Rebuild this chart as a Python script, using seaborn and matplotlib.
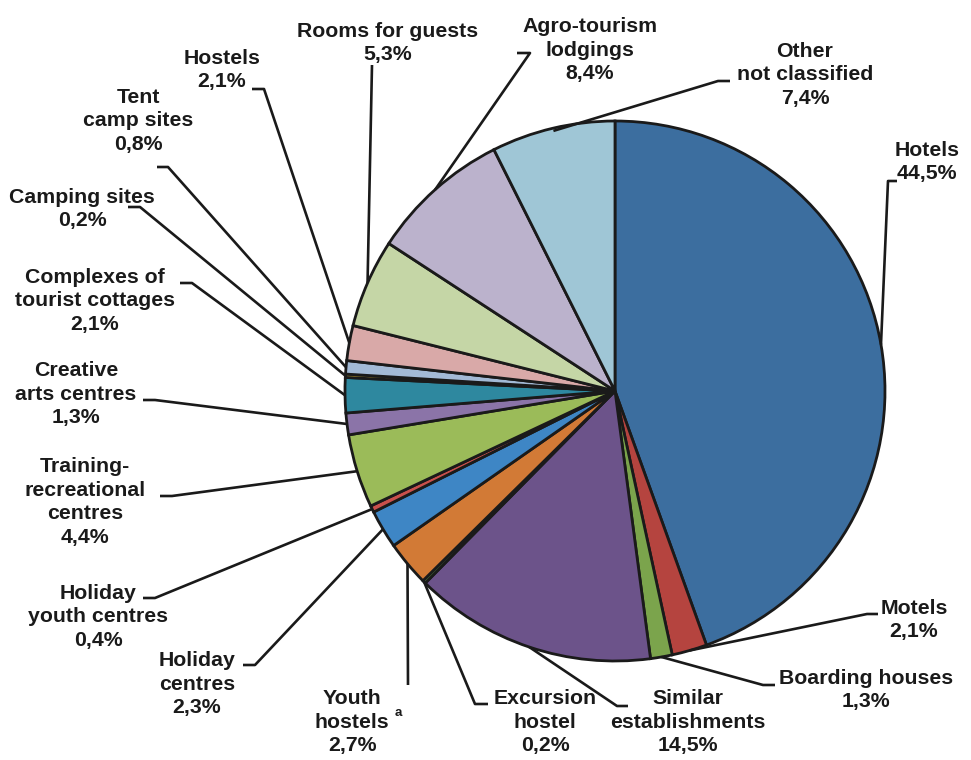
import numpy as np
import matplotlib
matplotlib.use("Agg")
import matplotlib.pyplot as plt
import seaborn as sns

# ---- data ----
categories = ["Hotels", "Motels", "Boarding houses", "Similar establishments",
              "Excursion hostel", "Youth hostels", "Holiday centres",
              "Holiday youth centres", "Training-recreational centres",
              "Creative arts centres", "Complexes of tourist cottages",
              "Camping sites", "Tent camp sites", "Hostels", "Rooms for guests",
              "Agro-tourism lodgings", "Other not classified"]
shares = [44.5, 2.1, 1.3, 14.5, 0.2, 2.7, 2.3, 0.4, 4.4, 1.3, 2.1, 0.2, 0.8,
          2.1, 5.3, 8.4, 7.4]
label_texts = ["Hotels\n44,5%", "Motels\n2,1%", "Boarding houses\n1,3%",
               "Similar\nestablishments\n14,5%", "Excursion\nhostel\n0,2%",
               "Youth\nhostels\n2,7%", "Holiday\ncentres\n2,3%",
               "Holiday\nyouth centres\n0,4%",
               "Training-\nrecreational\ncentres\n4,4%",
               "Creative\narts centres\n1,3%",
               "Complexes of\ntourist cottages\n2,1%",
               "Camping sites\n0,2%", "Tent\ncamp sites\n0,8%",
               "Hostels\n2,1%", "Rooms for guests\n5,3%",
               "Agro-tourism\nlodgings\n8,4%", "Other\nnot classified\n7,4%"]
colors = ["#3C6E9F", "#B5443F", "#7BA44C", "#6C538A", "#4F7F3A", "#D27A36",
          "#3E86C5", "#C9504C", "#9BBB59", "#8B74A8", "#2E889F", "#C8A62E",
          "#A3BAD6", "#D9A9A8", "#C5D6A6", "#BBB2CC", "#9FC6D6"]

# ---- layout (pixel space, y downward) ----
W, H = 971, 760
CX, CY, R = 615, 391, 270
label_pos = [(927, 162), (914, 620), (866, 690), (688, 722), (545, 722),
             (352, 722), (197, 684), (98, 617), (85, 502), (76, 394),
             (95, 301), (82, 209), (138, 121), (222, 70), (388, 43),
             (590, 50), (805, 75)]
# leader elbows: list of points from label side toward the pie
leader_pts = [[(897, 181), (888, 181)], [(878, 614), (867, 614)],
              [(775, 685), (763, 685)], [(628, 706), (617, 706)],
              [(488, 704), (475, 704)], [(408, 685)],
              [(243, 665), (255, 665)], [(143, 598), (155, 598)],
              [(160, 496), (172, 496)], [(143, 400), (155, 400)],
              [(180, 283), (192, 283)], [(128, 207), (140, 207)],
              [(157, 167), (168, 167)], [(252, 89), (264, 89)],
              [(372, 65)], [(517, 53), (530, 53)], [(730, 81), (718, 81)]]
end_rad = [1.0, 1.0, 1.0, 1.0, 1.0, 1.0, 1.0, 1.0, 1.0, 1.0, 1.0, 1.0, 1.0,
           1.0, 1.0, 1.0, 0.99]

sns.set_theme(style="white")
plt.rcParams['font.family'] = ['Liberation Sans', 'DejaVu Sans']

fig = plt.figure(figsize=(W / 100, H / 100), dpi=100)
ax = fig.add_axes([0, 0, 1, 1])
ax.pie(shares, colors=sns.color_palette(colors), startangle=-90,
       counterclock=True, center=(CX, CY), radius=R,
       wedgeprops=dict(edgecolor="#1a1a1a", linewidth=2.0))
ax.set_xlim(0, W)
ax.set_ylim(H, 0)
ax.set_aspect('equal')
ax.axis('off')

fr = np.array(shares) / np.sum(shares)
cum = np.cumsum(fr) - fr / 2
for i, txt in enumerate(label_texts):
    th = np.deg2rad(-90 + 360 * cum[i])
    ex = CX + R * end_rad[i] * np.cos(th)
    ey = CY + R * end_rad[i] * np.sin(th)
    pts = leader_pts[i] + [(ex, ey)]
    ax.plot([p[0] for p in pts], [p[1] for p in pts], color="#1a1a1a",
            lw=1.9, solid_capstyle='butt', zorder=3)
    lx, ly = label_pos[i]
    ax.text(lx, ly, txt, ha='center', va='center', multialignment='center',
            fontsize=15.3, fontweight='bold', color="#1a1a1a", linespacing=1.3)

# superscript note marker
ax.text(398, 713, "a", ha='center', va='center', fontsize=9.5,
        fontweight='bold', color="#1a1a1a")

fig.savefig("out.png", dpi=100)
